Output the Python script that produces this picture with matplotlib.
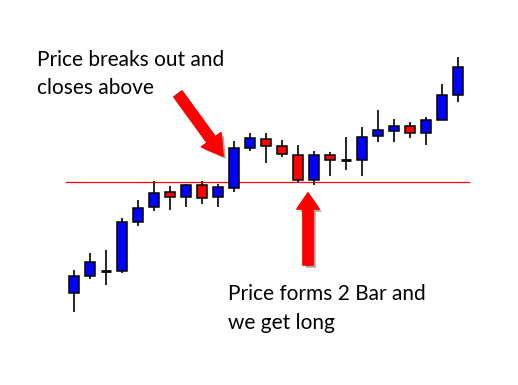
import matplotlib
matplotlib.use("Agg")
import matplotlib.pyplot as plt
from matplotlib.patches import Rectangle, FancyArrow
import matplotlib.patheffects as pe

# ---- data (price units, arbitrary) ----
opens  = [92.0, 109.3, 114.3, 113.7, 162.7, 177.7, 192.7, 187.7, 199.7, 187.7,
          197.3, 236.7, 245.7, 238.7, 229.7, 205.3, 229.7, 224.7, 224.7, 248.7,
          253.7, 258.7, 251.7, 264.7, 289.7]
closes = [109.0, 122.7, 114.3, 162.7, 176.7, 191.7, 187.7, 199.7, 186.7, 197.7,
          236.7, 246.7, 238.7, 230.7, 205.3, 229.7, 224.7, 224.7, 248.5, 254.7,
          258.7, 251.7, 264.7, 289.7, 317.7]
highs  = [115.0, 132.0, 135.0, 167.3, 185.0, 204.0, 199.0, 201.0, 204.0, 201.0,
          244.0, 251.7, 251.7, 244.7, 239.7, 233.7, 232.7, 247.7, 258.0, 274.7,
          265.7, 262.7, 267.7, 300.7, 327.7]
lows   = [73.3, 106.3, 100.3, 112.3, 159.3, 174.3, 175.3, 178.3, 181.3, 178.3,
          193.3, 234.3, 222.3, 227.7, 202.3, 200.3, 209.3, 215.3, 209.3, 242.7,
          242.7, 246.7, 239.7, 264.7, 282.7]
breakout_level = 202.7

label_breakout = "Price breaks out and\ncloses above"
label_long = "Price forms 2 Bar and\nwe get long"

W, H = 518, 385
fig = plt.figure(figsize=(W / 100, H / 100), dpi=100)
fig.patch.set_facecolor("white")

ax = fig.add_axes([0, 0, 1, 1])
ax.set_xlim(-74 / 16, (W - 74) / 16)
ax.set_ylim(0, H)
ax.axis("off")

body_w = 0.65
for i, (o, c, h, l) in enumerate(zip(opens, closes, highs, lows)):
    ax.plot([i, i], [l, h], color="black", lw=1.2, solid_capstyle="butt", zorder=2)
    if abs(c - o) < 0.5:
        ax.plot([i - body_w / 2, i + body_w / 2], [o, o], color="black", lw=2.0,
                solid_capstyle="butt", zorder=3)
    else:
        col = "#0000FF" if c > o else "#FF0000"
        ax.add_patch(Rectangle((i - body_w / 2, min(o, c)), body_w, abs(c - o),
                               facecolor=col, edgecolor="black", lw=1.1, zorder=3))

ax.plot([-0.5, 24.7], [breakout_level, breakout_level], color="#FF0000", lw=0.9, zorder=1)

# overlay in pixel coordinates for annotations
ov = fig.add_axes([0, 0, 1, 1])
ov.set_xlim(0, W)
ov.set_ylim(H, 0)
ov.axis("off")
ov.patch.set_alpha(0)

font = dict(family=["Lato", "DejaVu Sans"], fontsize=15, color="black")
ov.text(37, 94.5, label_breakout, va="baseline", ha="left", linespacing=1.55, **font)
ov.text(228, 329, label_long, va="baseline", ha="left", linespacing=1.55, **font)

shadow = [pe.withSimplePatchShadow(offset=(2, -2), shadow_rgbFace="black", alpha=0.35),
          pe.Normal()]
a1 = FancyArrow(178, 94, 45, 62, width=10, head_width=24, head_length=20,
                length_includes_head=True, facecolor="#FF0000", edgecolor="#FF0000",
                lw=1, joinstyle="round", zorder=5)
a1.set_path_effects(shadow)
ov.add_patch(a1)
a2 = FancyArrow(308, 265, 0, -72, width=10, head_width=22, head_length=16,
                length_includes_head=True, facecolor="#FF0000", edgecolor="#FF0000",
                lw=1, joinstyle="round", zorder=5)
a2.set_path_effects(shadow)
ov.add_patch(a2)

fig.savefig("out.png", dpi=100)
